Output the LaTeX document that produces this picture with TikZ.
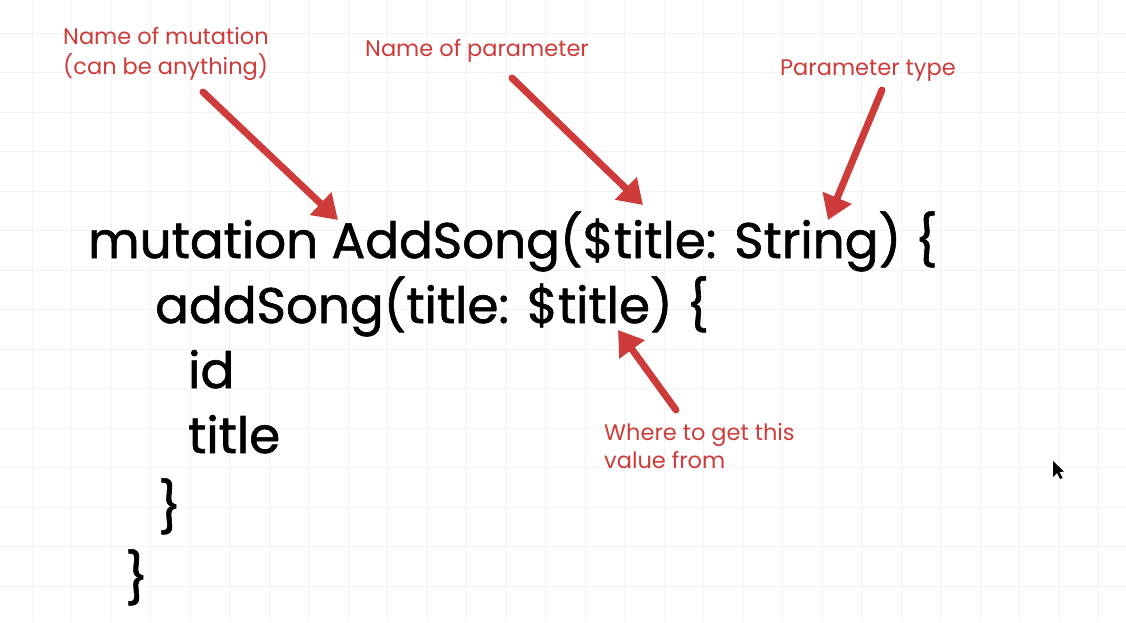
\documentclass[tikz,border=0pt]{standalone}
\usepackage{fontspec}
\setmainfont{Poppins}
\newfontfamily\codefont{Poppins}[FakeBold=1.2]
\usetikzlibrary{arrows.meta}
\definecolor{notered}{RGB}{205,60,58}
\definecolor{gridgray}{RGB}{243,243,243}
\begin{document}
\begin{tikzpicture}[x=1pt,y=-1pt]
	\tikzset{code/.style = {anchor=base west, inner sep=0pt, font=\codefont\fontsize{50}{56}\selectfont},
		note/.style = {anchor=base west, inner sep=0pt, text=notered, font=\fontsize{22.5}{28}\selectfont},
		pointer/.style = {draw=notered, line width=7pt, line cap=round, -{Triangle[length=24pt,width=30pt]}},
		gridline/.style = {draw=gridgray, line width=.8pt}}
	% Page and faint grid
	\fill[white] (0,0) rectangle (1126,622);
	\useasboundingbox (0,0) rectangle (1126,622);
	\foreach \x in {32,71.5,...,1126} \draw[gridline] (\x,0) -- (\x,622);
	\foreach \y in {33,72.5,...,622} \draw[gridline] (0,\y) -- (1126,\y);
	% Code
	\node[code] (L1) at (88,258) {mutation AddSong(\$title: String) \{};
	\node[code] (L2) at (155,323) {addSong(title: \$title) \{};
	\node[code] (L3) at (188,388) {id};
	\node[code] (L4) at (188,453) {title};
	\node[code] (L5) at (158,525) {\}};
	\node[code] (L6) at (125,596) {\}};
	% Notes
	\node[note] (N1) at (63,44) {Name of mutation};
	\node[note] (N1b) at (63,74) {(can be anything)};
	\node[note] (N2) at (365,56) {Name of parameter};
	\node[note] (N3) at (780,75) {Parameter type};
	\node[note] (N4) at (604,440) {Where to get this};
	\node[note] (N4b) at (604,468) {value from};
	% Arrows
	\coordinate (A1s) at (203,92);  \coordinate (A1e) at (338,220);
	\coordinate (A2s) at (512,78);  \coordinate (A2e) at (643,205);
	\coordinate (A3s) at (882,90);  \coordinate (A3e) at (828,220);
	\coordinate (A4s) at (676,410); \coordinate (A4e) at (618,330);
	\draw[pointer] (A1s) -- (A1e);
	\draw[pointer] (A2s) -- (A2e);
	\draw[pointer] (A3s) -- (A3e);
	\draw[pointer] (A4s) -- (A4e);
	% Cursor
	\fill (1053,461) -- (1053,477) -- (1057,473) -- (1060,479) -- (1062.5,478) -- (1059.5,472) -- (1064,471.5) -- cycle;
\end{tikzpicture}
\end{document}
